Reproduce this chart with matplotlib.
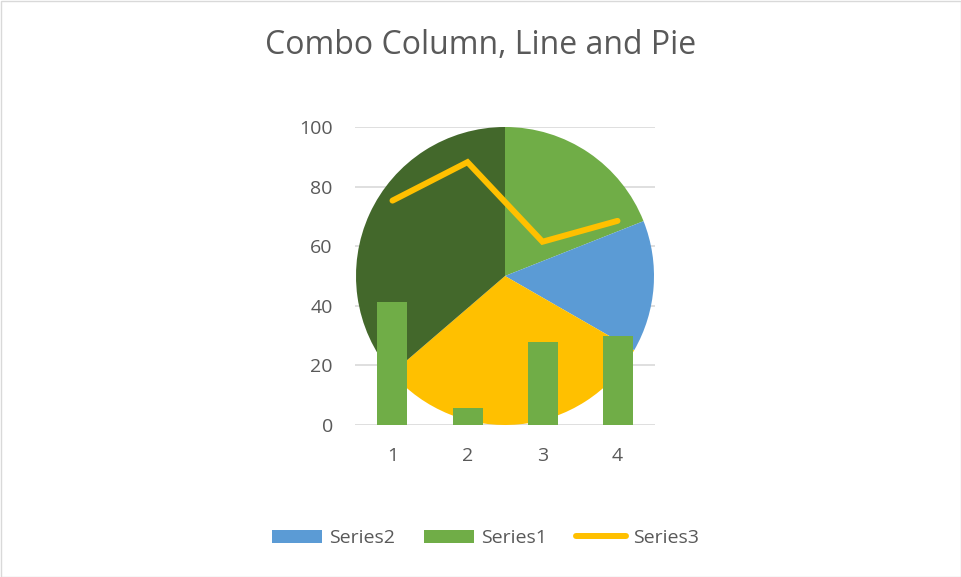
import matplotlib
matplotlib.use("Agg")
import matplotlib.pyplot as plt
from matplotlib.patches import Patch, Rectangle
from matplotlib.lines import Line2D

categories = [1, 2, 3, 4]
series1 = [41.3, 5.8, 28.0, 30.0]
series3 = [75.3, 88.2, 61.5, 68.5]
pie_values = [19.0, 14.3, 30.4, 36.3]
pie_colors = ["#70AD47", "#5B9BD5", "#FFC000", "#43682B"]
yticks = [0, 20, 40, 60, 80, 100]

W, H = 962, 577
fig = plt.figure(figsize=(W / 100, H / 100), dpi=100)
plt.rcParams['font.family'] = ['Open Sans', 'DejaVu Sans']
fig.patch.set_facecolor("white")
fig.add_artist(Rectangle((0.5 / W, 0.5 / H), 1 - 1.5 / W, 1 - 1.5 / H, transform=fig.transFigure,
                         fill=False, edgecolor="#D9D9D9", linewidth=1))

pl, pr, pt, pb = 355, 655, 127, 425
rect = [pl / W, (H - pb) / H, (pr - pl) / W, (pb - pt) / H]

# background axes: grid + ticks
ax = fig.add_axes(rect, zorder=0)
ax.set_xlim(0.5, 4.5)
ax.set_ylim(0, 100)
ax.set_yticks(yticks)
ax.set_xticks(categories)
ax.set_xticklabels([str(c) for c in categories])
ax.yaxis.grid(True, color="#D9D9D9", linewidth=1.2)
ax.set_axisbelow(True)
for s in ax.spines.values():
    s.set_visible(False)
ax.tick_params(length=0, colors="#595959", labelsize=14)
ax.tick_params(axis="y", pad=16)
ax.tick_params(axis="x", pad=16)

# pie axes
cx, cy, r = 505, 276, 149
pax = fig.add_axes([(cx - r) / W, (H - cy - r) / H, 2 * r / W, 2 * r / H], zorder=1)
pax.pie(pie_values, colors=pie_colors, startangle=90, counterclock=False, radius=1,
        wedgeprops=dict(linewidth=0))
pax.set_xlim(-1, 1)
pax.set_ylim(-1, 1)
pax.axis("off")

# top axes: bars + line
tax = fig.add_axes(rect, zorder=2)
tax.patch.set_visible(False)
tax.set_xlim(0.5, 4.5)
tax.set_ylim(0, 100)
tax.bar(categories, series1, width=0.4, color="#70AD47", zorder=2)
tax.plot(categories, series3, color="#FFC000", linewidth=4.3, solid_capstyle="round",
         solid_joinstyle="miter", zorder=3)
tax.axis("off")

fig.text(481 / W, 1 - 46 / H, "Combo Column, Line and Pie", ha="center", va="center",
         fontsize=23, color="#595959")

handles = [Patch(facecolor="#5B9BD5", edgecolor="none"),
           Patch(facecolor="#70AD47", edgecolor="none"),
           Line2D([0], [0], color="#FFC000", linewidth=4.3, solid_capstyle="round")]
fig.legend(handles, ["Series2", "Series1", "Series3"], loc="center", ncol=3,
           bbox_to_anchor=(485.5 / W, 1 - 538 / H), frameon=False, fontsize=14,
           labelcolor="#595959", handlelength=2.58, handleheight=0.67,
           handletextpad=0.36, columnspacing=1.5, borderpad=0)

fig.savefig("out.png", dpi=100)
